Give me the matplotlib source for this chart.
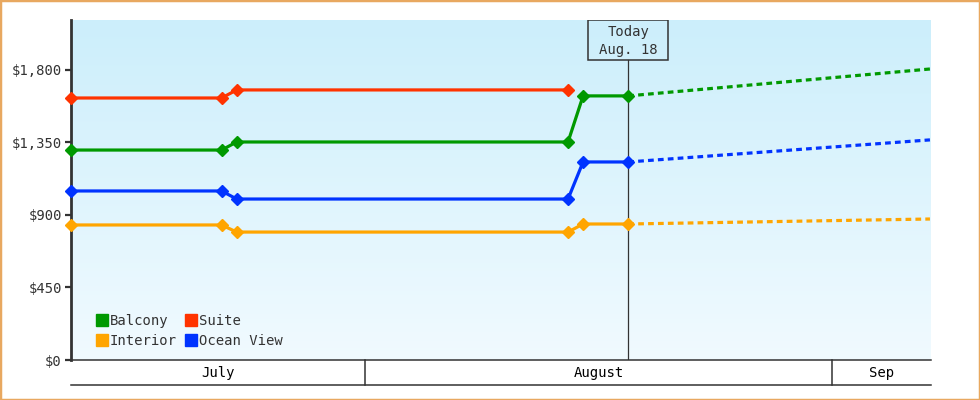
import numpy as np
import matplotlib
matplotlib.use("Agg")
import matplotlib.pyplot as plt
import matplotlib.transforms as mtransforms
from matplotlib.patches import Rectangle
from matplotlib.lines import Line2D

# days counted from July 1 (0 = Jul 1 00:00)
days = [11.47, 21.47, 22.47, 44.47, 45.47, 48.47]
today = 48.47
forecast_days = [48.47, 68.5]

balcony = [1303, 1303, 1353, 1353, 1639, 1639]
suite = [1626, 1626, 1676, 1676]
ocean_view = [1049, 1049, 999, 999, 1229, 1229]
interior = [838, 838, 794, 794, 844, 844]

balcony_fc = [1639, 1806]
ocean_view_fc = [1229, 1366]
interior_fc = [844, 875]

months = ['July', 'August', 'Sep']
month_starts = [0, 31, 62, 92]

yticks = [0, 450, 900, 1350, 1800]
ytick_labels = ['$0', '$450', '$900', '$1,350', '$1,800']

green = '#009900'
red = '#FF3300'
blue = '#0033FF'
orange = '#FFA500'
dark = '#333333'

plt.rcParams['font.family'] = ['DejaVu Sans Mono']

fig = plt.figure(figsize=(9.8, 4), dpi=100)
ax = fig.add_axes([71/980, 40/400, 860/980, 340/400])

x0, x1 = 11.47, 68.57
ymax = 2110

# gradient background, darker at the top
grad = np.linspace(0, 1, 256).reshape(-1, 1)
top = np.array([0.80, 0.935, 0.985])
bot = np.array([0.945, 0.982, 1.0])
img = top * (1 - grad)[..., None] + bot * grad[..., None]
ax.imshow(img, extent=[x0, x1, 0, ymax], origin='upper', aspect='auto', zorder=0)
ax.set_xlim(x0, x1)
ax.set_ylim(0, ymax)

lw = 2.3
ms = 6
ax.plot(days, balcony, color=green, lw=lw, marker='D', ms=ms, clip_on=False, zorder=4)
ax.plot(days[:4], suite, color=red, lw=lw, marker='D', ms=ms, clip_on=False, zorder=4)
ax.plot(days, ocean_view, color=blue, lw=lw, marker='D', ms=ms, clip_on=False, zorder=4)
ax.plot(days, interior, color=orange, lw=lw, marker='D', ms=ms, clip_on=False, zorder=4)

ax.plot(forecast_days, balcony_fc, color=green, lw=lw, dashes=(1.8, 1.3), zorder=3)
ax.plot(forecast_days, ocean_view_fc, color=blue, lw=lw, dashes=(1.8, 1.3), zorder=3)
ax.plot(forecast_days, interior_fc, color=orange, lw=lw, dashes=(1.8, 1.3), zorder=3)

# today marker
trans = mtransforms.blended_transform_factory(ax.transData, ax.transAxes)
box_h = 40 / 340
box_w = 80 / (467 / 31)
ax.plot([today, today], [0, 1 - box_h], color=dark, lw=0.9, transform=trans, zorder=2)
ax.add_patch(Rectangle((today - box_w / 2, 1 - box_h), box_w, box_h, transform=trans,
                       fc='none', ec=dark, lw=1.1, zorder=5))
ax.text(today, 1 - 12 / 340, 'Today', transform=trans, ha='center', va='center',
        fontsize=10, color=dark)
ax.text(today, 1 - 30 / 340, 'Aug. 18', transform=trans, ha='center', va='center',
        fontsize=10, color=dark)

# month band below axis
band = -25 / 340
ax.plot([x0, x1], [band, band], color=dark, lw=1.1, transform=trans, clip_on=False)
for b in month_starts[1:3]:
    ax.plot([b, b], [0, band], color=dark, lw=1.1, transform=trans, clip_on=False)
for i, m in enumerate(months):
    a = max(month_starts[i], x0)
    c = min(month_starts[i + 1], x1)
    ax.text((a + c) / 2, band / 2, m, transform=trans, ha='center', va='center',
            fontsize=10, color='black')

# axes styling
for s in ['top', 'right']:
    ax.spines[s].set_visible(False)
ax.spines['left'].set_color(dark)
ax.spines['left'].set_linewidth(2.0)
ax.spines['bottom'].set_color(dark)
ax.spines['bottom'].set_linewidth(1.1)
ax.set_xticks([])
ax.set_yticks(yticks)
ax.set_yticklabels(ytick_labels)
ax.tick_params(axis='y', direction='out', length=4.5, width=1.6, color=dark,
               labelsize=10, labelcolor=dark, pad=2)

handles = [Line2D([], [], ls='none', marker='s', ms=8, color=c) for c in [green, orange, red, blue]]
labels = ['Balcony', 'Interior', 'Suite', 'Ocean View']
ax.legend(handles, labels, ncol=2, loc='lower left', bbox_to_anchor=(0.021, 0.016),
          frameon=False, handlelength=0.8, handletextpad=0.2, columnspacing=0.6,
          labelspacing=0.4, borderpad=0, fontsize=10, labelcolor=dark)

# outer border
fig.patches.append(Rectangle((0, 0), 1, 1, transform=fig.transFigure, fill=False,
                             ec='#E8A860', lw=2.5))

fig.savefig('out.png', dpi=100)
